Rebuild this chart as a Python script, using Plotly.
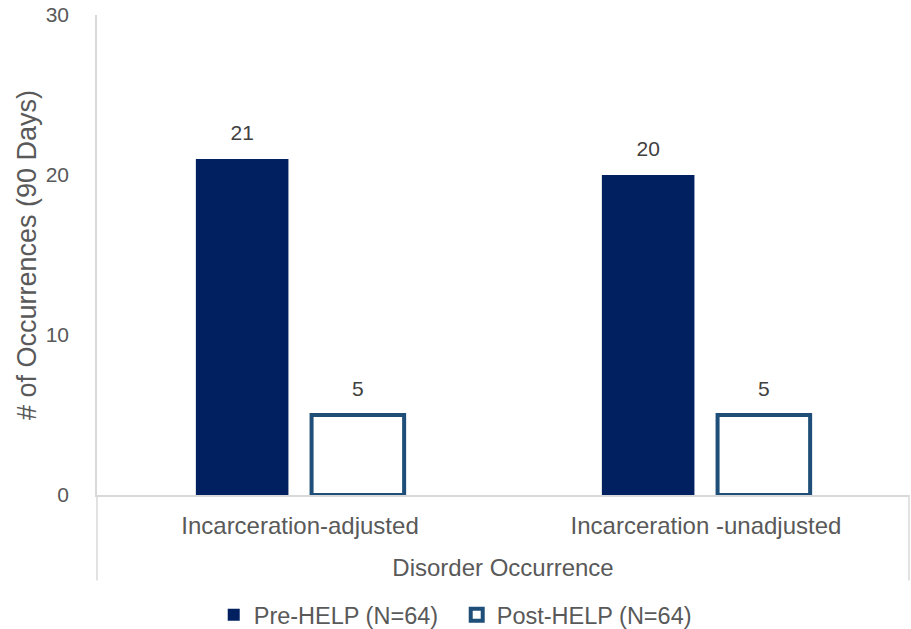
import plotly.graph_objects as go

categories = ["Incarceration-adjusted", "Incarceration -unadjusted"]
pre_help = [21, 20]
post_help = [5, 5]
series_names = ["Pre-HELP (N=64)", "Post-HELP (N=64)"]
y_ticks = [0, 10, 20, 30]

GAP = 0.43

fig = go.Figure()
fig.add_trace(go.Bar(
    x=categories, y=pre_help, name=series_names[0], offsetgroup="pre",
    marker=dict(color="#002060", line=dict(width=0)),
))
fig.add_trace(go.Bar(
    x=categories, y=post_help, name=series_names[1], offsetgroup="post",
    marker=dict(color="white", line=dict(color="#1F4E79", width=4)),
))
# data labels, aligned with the bars
for vals, grp in [(pre_help, "pre"), (post_help, "post")]:
    fig.add_trace(go.Scatter(
        x=categories, y=vals, mode="markers+text", offsetgroup=grp,
        marker=dict(size=21, opacity=0), showlegend=False, hoverinfo="skip",
        text=[str(v) for v in vals], textposition="top center",
        textfont=dict(size=21, color="#404040"), cliponaxis=False,
    ))

fig.update_layout(
    width=911, height=629,
    margin=dict(l=97, r=2, t=15, b=134, autoexpand=False),
    paper_bgcolor="white", plot_bgcolor="white",
    barmode="group", bargap=GAP, bargroupgap=0.2,
    scattermode="group", scattergap=GAP,
    font=dict(family="Liberation Sans, Arial, sans-serif", color="#595959"),
    showlegend=True,
    legend=dict(orientation="h", x=0.443, xanchor="center", y=-0.25, yanchor="middle",
                font=dict(size=23.5, color="#595959"), traceorder="normal",
                entrywidth=198),
    yaxis=dict(range=[0, 30], tickvals=y_ticks, showgrid=False, zeroline=False,
               showline=True, linecolor="#D9D9D9", linewidth=1.5, automargin=False,
               tickfont=dict(size=21, color="#595959"), ticklabelstandoff=22,
               title=dict(text="# of Occurrences (90 Days)", font=dict(size=27, color="#595959"),
                          standoff=1)),
    xaxis=dict(showgrid=False, showline=True, linecolor="#D9D9D9", linewidth=1.5, automargin=False,
               tickfont=dict(size=24, color="#595959"), ticklabelstandoff=8,
               title=dict(text="Disorder Occurrence", font=dict(size=24, color="#595959"),
                          standoff=22)),
)

# category axis bracket lines extending below the plot area
for xp in [0, 1]:
    fig.add_shape(type="line", xref="paper", yref="paper", x0=xp, x1=xp, y0=0, y1=-0.178,
                  line=dict(color="#D9D9D9", width=1.5))

fig.write_html("out.html")
